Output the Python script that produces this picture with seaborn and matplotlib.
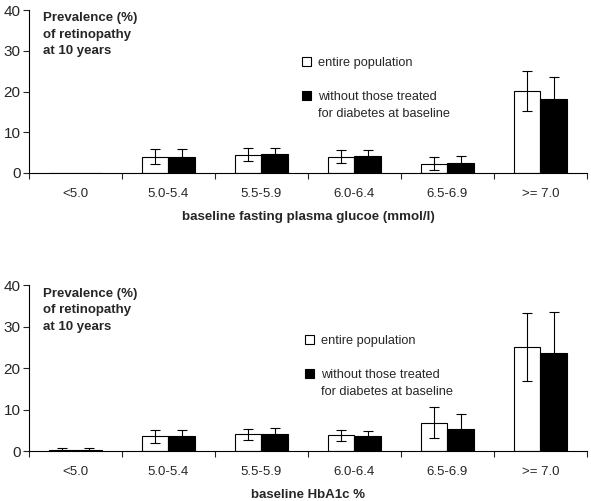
import numpy as np
import pandas as pd
import matplotlib
matplotlib.use('Agg')
import matplotlib.pyplot as plt
import seaborn as sns

# categories (same bins in both panels)
categories = ['<5.0', '5.0-5.4', '5.5-5.9', '6.0-6.4', '6.5-6.9', '>= 7.0']
groups = ['entire population', 'without those treated']
group_note = 'for diabetes at baseline'

# fasting plasma glucose panel
fpg_all = [0.0, 3.9, 4.4, 3.9, 2.2, 20.1]
fpg_all_lo = [0.0, 2.1, 2.9, 2.4, 0.7, 15.1]
fpg_all_hi = [0.0, 5.8, 6.2, 5.6, 3.9, 25.0]
fpg_untreated = [0.0, 3.9, 4.7, 4.2, 2.5, 18.1]
fpg_untreated_lo = [0.0, 2.0, 3.2, 2.8, 0.8, 12.7]
fpg_untreated_hi = [0.0, 5.8, 6.2, 5.6, 4.2, 23.5]

# HbA1c panel
hba_all = [0.3, 3.7, 4.2, 3.9, 6.7, 25.0]
hba_all_lo = [0.0, 1.9, 2.7, 2.4, 3.2, 16.9]
hba_all_hi = [0.8, 5.1, 5.3, 5.1, 10.6, 33.2]
hba_untreated = [0.3, 3.7, 4.2, 3.7, 5.3, 23.5]
hba_untreated_lo = [0.0, 2.3, 2.8, 2.5, 1.7, 13.4]
hba_untreated_hi = [0.8, 5.1, 5.6, 4.9, 8.9, 33.6]

sns.set_style('white')
plt.rcParams['font.family'] = ['Liberation Sans', 'DejaVu Sans']


def draw_panel(ax, vals_a, lo_a, hi_a, vals_b, lo_b, hi_b, xlabel, xlabel_size, legend_anchor):
    df = pd.DataFrame({
        'category': categories * 2,
        'value': vals_a + vals_b,
        'group': [groups[0]] * len(categories) + [groups[1]] * len(categories),
    })
    sns.barplot(data=df, x='category', y='value', hue='group', order=categories,
                hue_order=groups, palette=['white', 'black'], edgecolor='black',
                linewidth=0.8, width=0.57, errorbar=None, ax=ax)

    # error bars at the bar centres seaborn placed
    n = len(categories)
    patches = ax.patches[:2 * n]
    for i, (vals, lo, hi) in enumerate([(vals_a, lo_a, hi_a), (vals_b, lo_b, hi_b)]):
        xs = [p.get_x() + p.get_width() / 2 for p in patches[i * n:(i + 1) * n]]
        for x, v, l, h in zip(xs, vals, lo, hi):
            if h <= 0:
                continue
            ax.errorbar(x, v, yerr=[[v - l], [h - v]], fmt='none', ecolor='black',
                        elinewidth=0.8, capsize=3.5, capthick=0.8)

    ax.set_ylim(0, 40)
    ax.set_yticks([0, 10, 20, 30, 40])
    ax.set_xlim(-0.5, n - 0.5)
    ax.set_xticks(range(n))
    ax.set_xticklabels(categories)
    ax.set_xticks(np.arange(-0.5, n, 1.0), minor=True)
    ax.tick_params(axis='x', which='major', length=0, labelsize=9.5, pad=11)
    ax.tick_params(axis='x', which='minor', length=4, width=0.8, direction='out', bottom=True)
    ax.tick_params(axis='y', length=4, width=0.8, direction='out', left=True, labelsize=11, pad=2)
    sns.despine(ax=ax)
    for s in ['left', 'bottom']:
        ax.spines[s].set_color('black')
        ax.spines[s].set_linewidth(0.8)
    ax.set_xlabel(xlabel, fontsize=xlabel_size, fontweight='bold', labelpad=8)
    ax.set_ylabel('')
    ax.text(0.025, 0.985, 'Prevalence (%)\nof retinopathy\nat 10 years', transform=ax.transAxes,
            fontsize=9.5, fontweight='bold', va='top', ha='left', linespacing=1.5)
    leg = ax.legend(loc='upper left', bbox_to_anchor=legend_anchor, frameon=False, fontsize=9.2,
                    handlelength=0.7, handleheight=0.7, handletextpad=0.6, labelspacing=1.75,
                    borderaxespad=0)

    # second line of the last legend label, under its first line
    ax.figure.canvas.draw()
    bb = leg.get_texts()[1].get_window_extent()
    x0, y0 = ax.transAxes.inverted().transform((bb.x0, bb.y0))
    ax.text(x0, y0 - 0.03, group_note, transform=ax.transAxes, fontsize=9.2, va='top', ha='left')


fig = plt.figure(figsize=(5.91, 5.01), dpi=100)
ax1 = fig.add_axes([0.049, 0.6547, 0.944, 0.3253])
ax2 = fig.add_axes([0.049, 0.0998, 0.944, 0.3313])

draw_panel(ax1, fpg_all, fpg_all_lo, fpg_all_hi, fpg_untreated, fpg_untreated_lo,
           fpg_untreated_hi, 'baseline fasting plasma glucoe (mmol/l)', 9.6, (0.48, 0.745))
draw_panel(ax2, hba_all, hba_all_lo, hba_all_hi, hba_untreated, hba_untreated_lo,
           hba_untreated_hi, 'baseline HbA1c %', 9.5, (0.485, 0.73))

fig.savefig('out.png', dpi=100)
